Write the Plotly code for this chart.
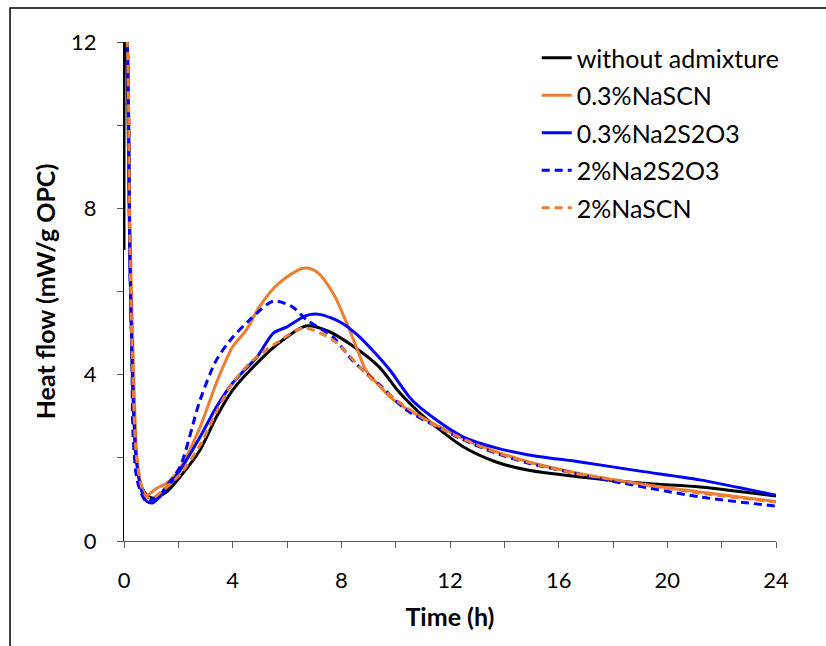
import plotly.graph_objects as go

# ---- data ----
t_black = [0.0, 0.03, 0.12, 0.2, 0.3, 0.45, 0.65, 0.85, 1.07, 1.3, 1.57, 2.06, 2.8, 3.4, 4.0, 4.9, 5.7, 6.7, 7.5, 8.4, 9.4, 10.1, 10.9, 11.5, 12.5, 13.7, 14.9, 16.8, 19.1, 21.2, 22.8, 24.0]
v_black = [7.0, 13.0, 11.5, 7.5, 4.2, 2.0, 1.3, 1.1, 1.03, 1.08, 1.18, 1.54, 2.19, 2.98, 3.63, 4.28, 4.76, 5.17, 5.05, 4.7, 4.18, 3.6, 3.07, 2.74, 2.26, 1.9, 1.7, 1.54, 1.39, 1.3, 1.18, 1.08]

t_nascn03 = [0.0, 0.12, 0.22, 0.33, 0.48, 0.65, 0.84, 1.2, 1.57, 2.06, 2.8, 3.4, 4.0, 4.5, 5.0, 5.7, 6.6, 7.1, 7.7, 8.2, 8.55, 8.9, 9.3, 9.8, 10.4, 11.4, 12.5, 13.7, 14.9, 16.8, 19.0, 21.2, 24.0]
v_nascn03 = [13.0, 12.0, 7.5, 4.6, 2.0, 1.3, 1.1, 1.27, 1.39, 1.75, 2.74, 3.8, 4.67, 5.07, 5.65, 6.2, 6.56, 6.47, 5.96, 5.24, 4.67, 4.11, 3.8, 3.46, 3.18, 2.82, 2.46, 2.15, 1.9, 1.62, 1.37, 1.18, 0.95]

t_na2s2o3_03 = [0.0, 0.12, 0.22, 0.3, 0.45, 0.65, 0.85, 1.07, 1.3, 1.57, 2.06, 2.8, 3.4, 4.0, 4.9, 5.5, 6.0, 6.7, 7.2, 8.0, 8.6, 9.2, 9.8, 10.6, 11.5, 12.5, 13.7, 14.9, 16.8, 19.0, 21.2, 24.0]
v_na2s2o3_03 = [13.0, 12.0, 6.8, 4.4, 2.0, 1.2, 0.95, 0.92, 1.05, 1.27, 1.7, 2.5, 3.22, 3.8, 4.43, 5.0, 5.15, 5.42, 5.45, 5.25, 4.95, 4.55, 4.1, 3.39, 2.91, 2.5, 2.24, 2.07, 1.9, 1.68, 1.47, 1.1]

t_na2s2o3_2 = [0.0, 0.12, 0.22, 0.29, 0.33, 0.48, 0.7, 0.84, 1.0, 1.3, 1.6, 2.06, 2.8, 3.4, 4.0, 4.6, 5.5, 6.2, 6.7, 7.7, 8.4, 9.5, 10.4, 11.4, 12.5, 13.7, 14.9, 16.8, 17.5, 21.2, 24.0]
v_na2s2o3_2 = [13.0, 12.0, 6.6, 4.6, 2.6, 1.47, 1.06, 0.94, 0.98, 1.1, 1.35, 1.78, 3.39, 4.35, 4.9, 5.3, 5.77, 5.63, 5.33, 4.9, 4.35, 3.7, 3.15, 2.79, 2.43, 2.11, 1.87, 1.6, 1.5, 1.06, 0.84]

t_nascn2 = [0.0, 0.12, 0.22, 0.3, 0.45, 0.65, 0.85, 1.1, 1.4, 2.06, 2.8, 3.4, 4.0, 4.75, 5.7, 6.6, 7.7, 8.9, 10.1, 11.4, 12.5, 13.7, 14.9, 16.8, 17.5, 21.2, 24.0]
v_nascn2 = [13.0, 12.0, 7.0, 4.6, 2.1, 1.3, 1.05, 1.05, 1.2, 1.6, 2.3, 3.1, 3.8, 4.35, 4.8, 5.12, 4.83, 4.03, 3.35, 2.8, 2.45, 2.13, 1.89, 1.6, 1.53, 1.15, 0.94]

series = [
    ("without admixture", t_black, v_black, "#000000", "solid"),
    ("0.3%NaSCN", t_nascn03, v_nascn03, "#ED7D31", "solid"),
    ("0.3%Na2S2O3", t_na2s2o3_03, v_na2s2o3_03, "#0000FF", "solid"),
    ("2%Na2S2O3", t_na2s2o3_2, v_na2s2o3_2, "#0000FF", "8px,5px"),
    ("2%NaSCN", t_nascn2, v_nascn2, "#ED7D31", "8px,5px"),
]

x_ticks = [0, 2, 4, 6, 8, 10, 12, 14, 16, 18, 20, 22, 24]
x_tick_text = ["0", "", "4", "", "8", "", "12", "", "16", "", "20", "", "24"]
y_ticks = [0, 2, 4, 6, 8, 10, 12]
y_tick_text = ["0", "", "4", "", "8", "", "12"]

FONT = "Lato"

fig = go.Figure()
for i, (name, t, v, col, dash) in enumerate(series):
    fig.add_trace(go.Scatter(
        x=t, y=v, mode="lines", name=name, legendgroup=f"g{i}",
        line=dict(color=col, width=3, dash=dash, shape="spline", smoothing=0.8),
    ))

fig.update_layout(
    width=826, height=646,
    margin=dict(l=124, r=50, t=42, b=105),
    paper_bgcolor="white", plot_bgcolor="white",
    font=dict(family=FONT, color="#000000"),
    showlegend=True,
    legend=dict(
        x=0.633, y=1.014, xanchor="left", yanchor="top",
        font=dict(family=FONT, size=25, color="#000000"),
        bgcolor="rgba(0,0,0,0)", borderwidth=0,
        traceorder="grouped", tracegroupgap=2,
    ),
    xaxis=dict(
        range=[0, 24], tickmode="array", tickvals=x_ticks, ticktext=x_tick_text,
        ticks="outside", ticklen=6, tickcolor="#595959", tickwidth=1,
        showline=True, linecolor="#595959", linewidth=1,
        showgrid=False, zeroline=False,
        tickfont=dict(family=FONT, size=22, color="#000000"),
        ticklabelstandoff=14,
        title=dict(text="<b>Time (h)</b>", font=dict(family=FONT, size=25, color="#000000"), standoff=16),
    ),
    yaxis=dict(
        range=[0, 12], tickmode="array", tickvals=y_ticks, ticktext=y_tick_text,
        ticks="outside", ticklen=6, tickcolor="#595959", tickwidth=1,
        showline=True, linecolor="#000000", linewidth=1,
        showgrid=False, zeroline=False,
        tickfont=dict(family=FONT, size=22, color="#000000"),
        ticklabelstandoff=16,
        title=dict(text="<b>Heat flow (mW/g OPC)</b>", font=dict(family=FONT, size=25, color="#000000"), standoff=8),
    ),
    shapes=[dict(type="rect", xref="paper", yref="paper",
                 x0=-0.1748, x1=1.08, y0=-0.22, y1=1.068,
                 line=dict(color="#000000", width=1.5), fillcolor="rgba(0,0,0,0)", layer="below")],
)

fig.write_html("out.html")
